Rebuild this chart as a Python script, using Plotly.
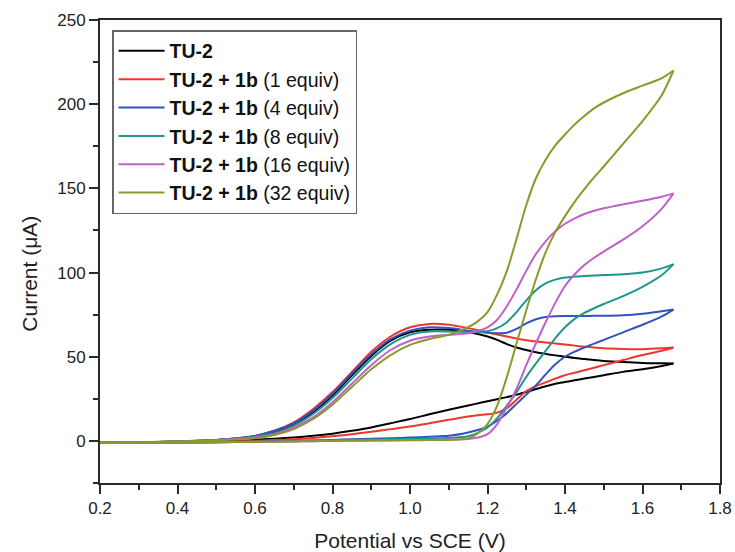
import plotly.graph_objects as go

# Potential grid (V vs SCE) shared by both sweep directions
POTENTIAL = [0.20, 0.30, 0.40, 0.50, 0.60, 0.65, 0.70, 0.75, 0.80, 0.85,
             0.90, 0.95, 1.00, 1.05, 1.10, 1.15, 1.175, 1.20, 1.225, 1.25,
             1.275, 1.30, 1.325, 1.35, 1.375, 1.40, 1.425, 1.45, 1.475, 1.50,
             1.55, 1.60, 1.65, 1.68]

# Current (uA) on the upper branch of each voltammogram
tu2_up = [-1, -0.8, -0.3, 0.5, 2.5, 5, 9.5, 17, 27, 39,
          50.5, 59.5, 64.5, 66, 66, 64.8, 63.5, 62, 60, 57.5,
          55.5, 54, 52.7, 51.7, 50.8, 50, 49.2, 48.6, 48, 47.5,
          46.8, 46.3, 46.1, 46]
eq1_up = [-1, -0.8, -0.3, 0.6, 3, 6, 11, 19, 29, 41,
          53, 62, 67.5, 69.5, 69, 67, 65.8, 64.5, 63.2, 62,
          60.8, 59.8, 59, 58.5, 57.8, 57.2, 56.6, 56, 55.5, 55,
          54.6, 54.5, 55, 55.5]
eq4_up = [-1, -0.8, -0.3, 0.6, 3, 6, 10.5, 18, 28, 40,
          51.5, 60.5, 65.5, 67.5, 67, 65.5, 64.8, 64.3, 64, 64.3,
          66.5, 69.8, 72.3, 73.6, 74.1, 74.2, 74.2, 74.2, 74.3, 74.3,
          74.6, 75.5, 77, 78]
eq8_up = [-1, -0.8, -0.3, 0.5, 2.5, 4.5, 9, 16, 25.5, 37,
          48.5, 57.5, 63, 65, 65, 64.6, 64.6, 65.2, 67, 70.5,
          76.5, 83.5, 89.5, 93.5, 95.8, 97, 97.6, 98, 98.3, 98.5,
          99, 100, 102.5, 105]
eq16_up = [-1, -0.8, -0.3, 0.4, 2, 4, 8, 14, 23, 34,
           45, 54, 59.5, 62, 63, 64, 65.3, 67.5, 72, 80,
           90, 101, 111, 118.5, 124.5, 129, 132.2, 134.8, 136.7, 138.2,
           140.5, 142.6, 145, 147]
eq32_up = [-1, -0.8, -0.3, 0.3, 1.5, 3.5, 7, 13, 21.5, 32,
           42.5, 51, 57, 60.5, 63, 67.5, 71, 76.5, 87, 101,
           120, 140, 156, 167, 175.5, 182, 188, 193, 197.5, 201,
           206.5, 211, 215.5, 220]

# Current (uA) on the lower branch of each voltammogram
tu2_down = [-1, -1, -0.5, 0, 0.8, 1.3, 2, 3, 4.3, 6,
            8, 10.5, 13, 15.8, 18.5, 21, 22.3, 23.5, 24.8, 26,
            27.5, 29, 30.8, 32.5, 34, 35, 36, 37, 38, 39,
            41, 42.5, 44.5, 46]
eq1_down = [-1, -1, -0.8, -0.5, 0, 0.5, 1, 1.8, 2.8, 4,
            5.5, 7, 8.5, 10.5, 12.5, 14.5, 15.3, 15.8, 16.8, 19.5,
            24.5, 29.5, 32.5, 34.8, 37, 39, 40.5, 42, 43.5, 45,
            48, 51, 53.5, 55.5]
eq4_down = [-1.2, -1.2, -1, -0.8, -0.5, -0.3, 0, 0.3, 0.6, 1,
            1.3, 1.6, 2, 2.5, 3, 5, 6.5, 8.5, 12, 16.5,
            22, 27.5, 33, 39.5, 45.5, 50, 53, 55.5, 57.8, 60,
            64.5, 69, 74, 78]
eq8_down = [-1.2, -1.2, -1, -0.8, -0.5, -0.3, 0, 0.2, 0.4, 0.6,
            0.8, 1, 1.2, 1.5, 1.8, 2.8, 4.8, 8, 13.5, 21,
            29, 38, 46, 53.5, 61, 67.5, 72.5, 76, 78.8, 81.3,
            86, 91.5, 98.5, 105]
eq16_down = [-1.2, -1.2, -1, -0.8, -0.6, -0.5, -0.3, -0.2, 0, 0.2,
             0.3, 0.4, 0.5, 0.6, 0.8, 1.2, 2, 4, 10, 20,
             31, 45, 58, 70.5, 82, 92, 99, 104.5, 108.8, 112.5,
             119.5, 127.5, 138, 147]
eq32_down = [-1.2, -1.2, -1, -0.8, -0.6, -0.5, -0.3, -0.2, 0, 0.1,
             0.2, 0.3, 0.4, 0.5, 0.6, 1.5, 4.5, 10, 21, 38,
             58, 77.5, 96, 112, 124, 133.5, 142, 149.5, 156.5, 163,
             176.5, 190, 205.5, 220]

SERIES_NAMES = [
    "<b>TU-2</b>",
    "<b>TU-2 + 1b</b> (1 equiv)",
    "<b>TU-2 + 1b</b> (4 equiv)",
    "<b>TU-2 + 1b</b> (8 equiv)",
    "<b>TU-2 + 1b</b> (16 equiv)",
    "<b>TU-2 + 1b</b> (32 equiv)",
]
SERIES_COLORS = ["#000000", "#f2352a", "#3352c0", "#1f968c", "#c060c8", "#8a9a2a"]
UPPER = [tu2_up, eq1_up, eq4_up, eq8_up, eq16_up, eq32_up]
LOWER = [tu2_down, eq1_down, eq4_down, eq8_down, eq16_down, eq32_down]

FONT = "Liberation Sans, Arial, Helvetica, sans-serif"

fig = go.Figure()
for name, color, up, down in zip(SERIES_NAMES, SERIES_COLORS, UPPER, LOWER):
    # both branches in one trace, split by a gap so the turning point stays sharp
    x = POTENTIAL + [None] + POTENTIAL[::-1]
    y = up + [None] + down[::-1]
    fig.add_trace(go.Scatter(
        x=x, y=y, mode="lines", name=name, connectgaps=False,
        line=dict(color=color, width=2, shape="spline", smoothing=0.8),
    ))

axis_common = dict(
    showline=True, linecolor="#2a2a2a", linewidth=2, mirror=True,
    ticks="outside", ticklen=9, tickwidth=1.5, tickcolor="#2a2a2a",
    showgrid=False, zeroline=False, automargin=False,
    tickfont=dict(family=FONT, size=17, color="#222222"),
)

fig.update_xaxes(
    range=[0.2, 1.8], tick0=0.2, dtick=0.2, tickformat=".1f",
    minor=dict(ticks="outside", ticklen=5, tickwidth=1.5, tickcolor="#2a2a2a", dtick=0.1),
    title=dict(text="Potential vs SCE (V)", font=dict(family=FONT, size=21, color="#222222"), standoff=17),
    **axis_common,
)
fig.update_yaxes(
    range=[-25, 250], tick0=0, dtick=50,
    minor=dict(ticks="outside", ticklen=5, tickwidth=1.5, tickcolor="#2a2a2a", dtick=25, tick0=-25),
    **axis_common,
)

# y-axis title, set a little below the axis midpoint
fig.add_annotation(
    text="Current (μA)", textangle=-90, showarrow=False,
    xref="paper", yref="paper", x=-0.113, y=0.452,
    xanchor="center", yanchor="middle",
    font=dict(family=FONT, size=21, color="#222222"),
)

fig.update_layout(
    width=735, height=552,
    margin=dict(l=100, r=15, t=20, b=69),
    paper_bgcolor="white", plot_bgcolor="white",
    showlegend=True,
    legend=dict(
        x=0.0194, y=0.978, xanchor="left", yanchor="top",
        bgcolor="white", bordercolor="#666666", borderwidth=1.5,
        font=dict(family=FONT, size=19.5, color="#111111"),
        itemwidth=46,
    ),
)

fig.write_html("out.html")
